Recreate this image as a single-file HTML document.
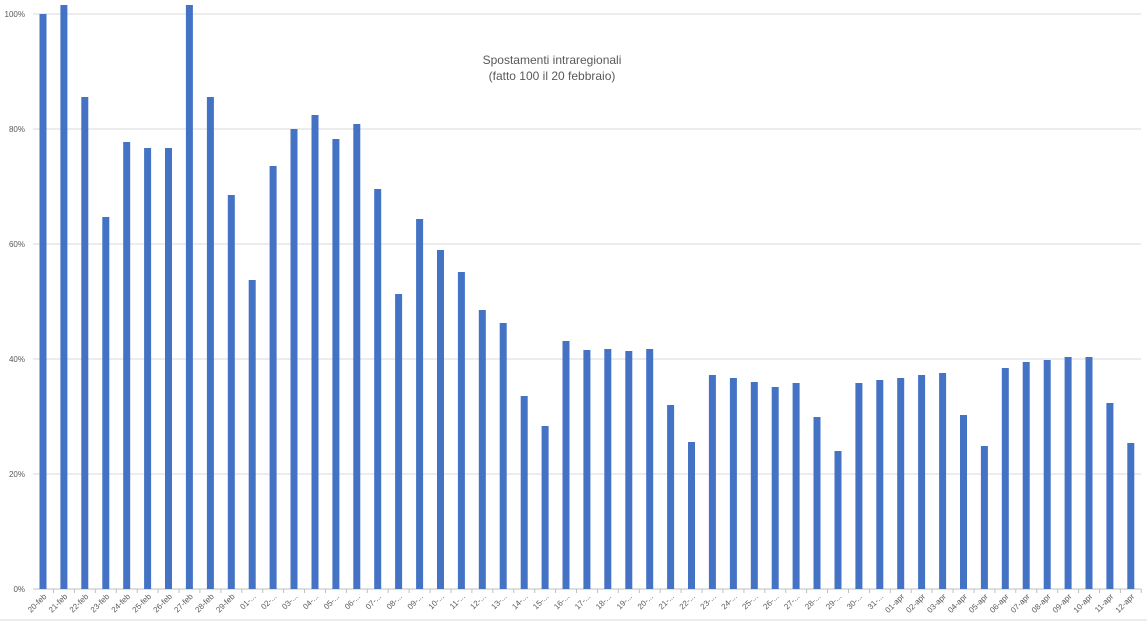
<!DOCTYPE html>
<html><head><style>body{margin:0;background:#fff;}svg{display:block;font-family:"Liberation Sans",sans-serif;}</style></head>
<body>
<svg width="1147" height="623" id="s" xmlns="http://www.w3.org/2000/svg"></svg>
<script>
const s=document.getElementById('s');let h='';
[14,129,244,359,474].forEach((y,i)=>{h+=`<line x1="33" x2="1141" y1="${y}" y2="${y}" stroke="#d9d9d9"/>`;h+=`<text x="25" y="${y+3}" font-size="8" fill="#595959" text-anchor="end">${100-i*20}%</text>`;});
h+=`<line x1="33" x2="1141" y1="589" y2="589" stroke="#bfbfbf"/><text x="25" y="592" font-size="8" fill="#595959" text-anchor="end">0%</text>`;
const tops=[14,5,97,217,142,148,148,5,97,195,280,166,129,115,139,124,189,294,219,250,272,310,323,396,426,341,350,349,351,349,405,442,375,378,382,387,383,417,451,383,380,378,375,373,415,446,368,362,360,357,357,403,443];
const labels=[];for(let d=20;d<=29;d++)labels.push(d+'-feb');for(let d=1;d<=31;d++)labels.push(String(d).padStart(2,'0')+'-...');for(let d=1;d<=12;d++)labels.push(String(d).padStart(2,'0')+'-apr');
tops.forEach((t,i)=>{const c=43+i*20.92;h+=`<rect x="${(c-3.5).toFixed(1)}" y="${t}" width="7" height="${589-t}" fill="#4472c4"/>`;
h+=`<line x1="${(c+10.5).toFixed(1)}" x2="${(c+10.5).toFixed(1)}" y1="589" y2="593" stroke="#bfbfbf"/>`;
h+=`<text transform="translate(${c+4},597) rotate(-45)" font-size="8" fill="#595959" text-anchor="end">${labels[i]}</text>`;});
h+=`<text x="552" y="64" font-size="12" fill="#595959" text-anchor="middle">Spostamenti intraregionali</text><text x="552" y="80" font-size="12" fill="#595959" text-anchor="middle">(fatto 100 il 20 febbraio)</text>`;
h+=`<line x1="0" x2="1147" y1="620" y2="620" stroke="#d9d9d9"/>`;
s.innerHTML=h;
</script>
</body></html>
